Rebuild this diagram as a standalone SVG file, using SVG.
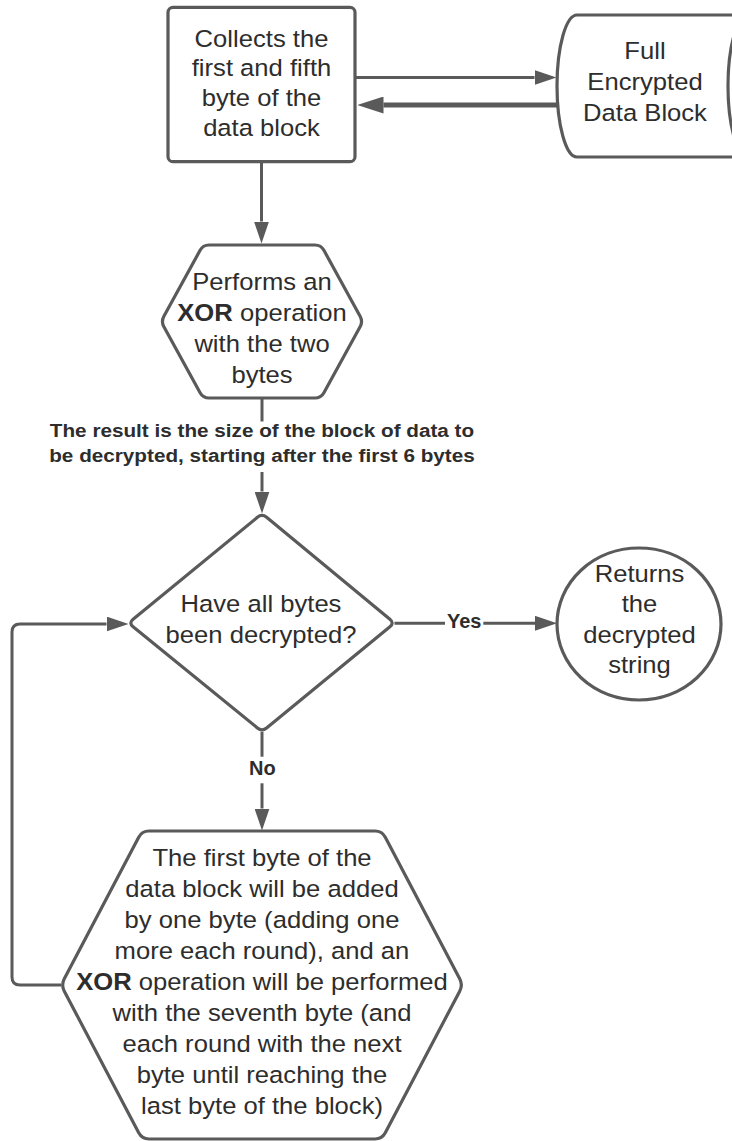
<svg xmlns="http://www.w3.org/2000/svg" width="732" height="1141" viewBox="0 0 732 1141">
<defs>
<style>
.node{fill:#fff;stroke:#5a5a5a;stroke-width:3.2;stroke-linejoin:round}
.conn{fill:none;stroke:#5a5a5a;stroke-width:3}
.thick{stroke-width:5}
.t{font-family:"Liberation Sans",Arial,sans-serif;font-size:23.5px;fill:#2d2d2d;text-anchor:middle}
.b{font-weight:bold}
.lbl{font-family:"Liberation Sans",Arial,sans-serif;font-size:19px;font-weight:bold;fill:#2d2d2d;text-anchor:middle}
.yn{font-family:"Liberation Sans",Arial,sans-serif;font-size:20px;font-weight:bold;fill:#2d2d2d;text-anchor:middle}
</style>
<marker id="ah" markerUnits="userSpaceOnUse" markerWidth="22" markerHeight="15" viewBox="0 0 22 15" refX="0" refY="7.5" orient="auto"><path d="M0,0 L22,7.5 L0,15 Z" fill="#5a5a5a"/></marker>
<marker id="ahb" markerUnits="userSpaceOnUse" markerWidth="26" markerHeight="17" viewBox="0 0 26 17" refX="0" refY="8.5" orient="auto"><path d="M0,0 L26,8.5 L0,17 Z" fill="#5a5a5a"/></marker>
</defs>
<rect width="732" height="1141" fill="#fff"/>

<g id="connectors">
<path class="conn" d="M355,77.5 H534.5" marker-end="url(#ah)"/>
<path class="conn thick" d="M557.7,105 H383.5" marker-end="url(#ahb)"/>
<path class="conn" d="M261.5,161.7 V221.5" marker-end="url(#ah)"/>
<path class="conn" d="M262,398 V421.5"/>
<path class="conn" d="M262,472 V491.5" marker-end="url(#ah)"/>
<path class="conn" d="M394.5,623.3 H445"/>
<path class="conn" d="M483.3,623.3 H535" marker-end="url(#ah)"/>
<path class="conn" d="M262,731.7 V756.7"/>
<path class="conn" d="M262,783.3 V808.5" marker-end="url(#ah)"/>
<path class="conn" d="M61,985 H20 Q12,985 12,977 V632 Q12,624 20,624 H106.5" marker-end="url(#ah)"/>
<g transform="translate(262 0) scale(1.09 1)">
<text class="lbl" x="0" y="437.3">The result is the size of the block of data to</text>
<text class="lbl" x="0" y="461.7">be decrypted, starting after the first 6 bytes</text>
</g>
<text class="yn" x="464.2" y="628.3">Yes</text>
<text class="yn" x="262.4" y="775">No</text>
</g>

<g id="collect">
<rect class="node" x="168" y="7.3" width="187" height="154.4" rx="5"/>
<g transform="translate(261.5 0) scale(1.09 1)">
<text class="t" x="0" y="46.8">Collects the</text>
<text class="t" x="0" y="76.5">first and fifth</text>
<text class="t" x="0" y="106.2">byte of the</text>
<text class="t" x="0" y="135.9">data block</text>
</g>
</g>

<g id="datablock">
<path class="node" d="M577,15 L748,15 A20,71 0 0 0 748,157 L577,157 A20,71 0 0 1 577,15 Z"/>
<g transform="translate(645 0) scale(1.09 1)">
<text class="t" x="0" y="59.5">Full</text>
<text class="t" x="0" y="90.5">Encrypted</text>
<text class="t" x="0" y="120.7">Data Block</text>
</g>
</g>

<g id="xor">
<path class="node" d="M163.9,316.2 L200.1,250.3 Q203,245 209,245 L315,245 Q321,245 323.9,250.3 L360.1,316.2 Q363,321.5 360.1,326.8 L323.9,392.7 Q321,398 315,398 L209,398 Q203,398 200.1,392.7 L163.9,326.8 Q161,321.5 163.9,316.2 Z"/>
<g transform="translate(262 0) scale(1.09 1)">
<text class="t" x="0" y="290">Performs an</text>
<text class="t" x="0" y="321"><tspan class="b">XOR</tspan> operation</text>
<text class="t" x="0" y="352">with the two</text>
<text class="t" x="0" y="383">bytes</text>
</g>
</g>

<g id="decision">
<path class="node" d="M257.4,517.3 Q262,513.5 266.6,517.3 L389.9,619.2 Q394.5,623 389.9,626.8 L266.6,727.9 Q262,731.7 257.4,727.9 L133.1,626.8 Q128.5,623 133.1,619.2 Z"/>
<g transform="translate(261 0) scale(1.09 1)">
<text class="t" x="0" y="612.3">Have all bytes</text>
<text class="t" x="0" y="643.3">been decrypted?</text>
</g>
</g>

<g id="returns">
<ellipse class="node" cx="639" cy="624" rx="82" ry="76"/>
<g transform="translate(639.5 0) scale(1.09 1)">
<text class="t" x="0" y="582">Returns</text>
<text class="t" x="0" y="612.5">the</text>
<text class="t" x="0" y="643">decrypted</text>
<text class="t" x="0" y="673.5">string</text>
</g>
</g>

<g id="loopstep">
<path class="node" d="M64.3,978.8 L138.7,837.2 Q142,831 149,831 L375,831 Q382,831 385.3,837.2 L459.7,978.8 Q463,985 459.7,991.2 L385.3,1132.8 Q382,1139 375,1139 L149,1139 Q142,1139 138.7,1132.8 L64.3,991.2 Q61,985 64.3,978.8 Z"/>
<g transform="translate(262 0) scale(1.09 1)">
<text class="t" x="0" y="866.5">The first byte of the</text>
<text class="t" x="0" y="897.5">data block will be added</text>
<text class="t" x="0" y="928.5">by one byte (adding one</text>
<text class="t" x="0" y="959.5">more each round), and an</text>
<text class="t" x="0" y="990.5"><tspan class="b">XOR</tspan> operation will be performed</text>
<text class="t" x="0" y="1021.5">with the seventh byte (and</text>
<text class="t" x="0" y="1052.5">each round with the next</text>
<text class="t" x="0" y="1083.5">byte until reaching the</text>
<text class="t" x="0" y="1114.5">last byte of the block)</text>
</g>
</g>
</svg>
